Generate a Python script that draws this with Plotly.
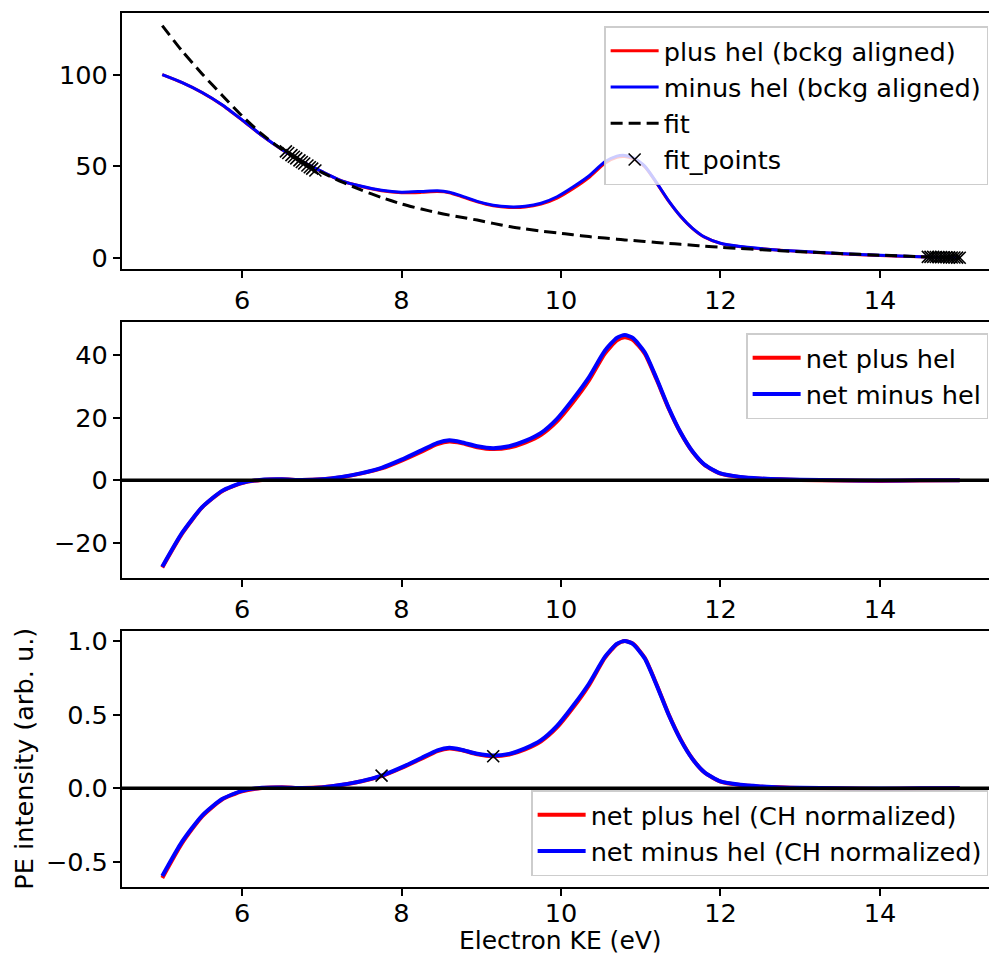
import plotly.graph_objects as go
from plotly.subplots import make_subplots

# ---------------- data ----------------
ke = [5.0, 5.25, 5.5, 5.75, 6.0, 6.25, 6.5, 6.75, 7.0, 7.25, 7.5, 7.75, 8.0, 8.25,
      8.45, 8.6, 8.75, 8.95, 9.15, 9.35, 9.55, 9.75, 9.95, 10.15, 10.35, 10.55,
      10.7, 10.8, 10.9, 11.05, 11.2, 11.35, 11.5, 11.65, 11.8, 12.0, 12.25, 12.5,
      12.75, 13.0, 13.5, 14.0, 14.5, 15.0]

plus_bckg = [100.0, 95.6, 90.2, 83.5, 75.3, 66.8, 59.2, 52.7, 47.2, 42.1, 39.1, 36.8, 35.7, 35.9,
             36.3, 35.7, 33.6, 30.7, 28.6, 27.7, 27.9, 29.5, 32.8, 37.9, 44.0, 51.8,
             55.0, 55.4, 54.3, 49.9, 40.9, 31.1, 22.8, 16.2, 11.5, 8.1, 6.3, 5.2,
             4.4, 3.7, 2.5, 1.5, 0.8, 0.3]
minus_bckg = [100.0, 95.7, 90.3, 83.6, 75.4, 66.9, 59.3, 52.8, 47.3, 42.2, 39.2, 37.0, 36.0, 36.4,
              36.8, 36.0, 34.0, 31.0, 28.9, 28.0, 28.3, 30.0, 33.5, 38.8, 44.8, 52.5,
              55.6, 56.0, 54.9, 50.2, 41.1, 31.3, 22.9, 16.3, 11.6, 8.2, 6.4, 5.3,
              4.4, 3.8, 2.6, 1.6, 0.9, 0.3]
fit_curve = [126.7, 112.8, 100.4, 88.8, 77.6, 67.6, 59.3, 52.6, 46.8, 41.6, 37.1, 33.1, 29.6, 26.8,
             24.8, 23.5, 22.3, 20.8, 19.0, 17.3, 16.0, 14.8, 13.8, 12.8, 11.8, 11.0,
             10.4, 10.0, 9.7, 9.2, 8.6, 8.1, 7.6, 7.1, 6.6, 6.0, 5.3, 4.7,
             4.1, 3.6, 2.6, 1.7, 0.9, 0.3]

fit_pts_x = [6.55, 6.58, 6.62, 6.65, 6.68, 6.72, 6.75, 6.78, 6.82, 6.85, 6.88, 6.92,
             14.6, 14.633, 14.667, 14.7, 14.733, 14.767, 14.8, 14.833, 14.867, 14.9,
             14.933, 14.967, 15.0]
fit_pts_y = [58.2, 57.3, 56.2, 55.3, 54.4, 53.3, 52.4, 51.6, 50.5, 49.6, 48.8, 47.8,
             0.8, 0.77, 0.74, 0.7, 0.66, 0.62, 0.58, 0.54, 0.5, 0.45, 0.4, 0.35, 0.3]

net_plus = [-27.9, -17.0, -8.7, -3.5, -0.9, 0.1, 0.3, 0.1, 0.3, 1.0, 2.2, 3.8, 6.3, 9.2,
            11.6, 12.4, 11.9, 10.6, 10.0, 10.5, 12.1, 14.6, 18.9, 25.0, 32.0, 40.6,
            44.8, 45.8, 45.0, 40.6, 32.2, 23.0, 15.2, 9.1, 4.9, 2.1, 1.0, 0.5,
            0.3, 0.1, -0.1, -0.2, -0.1, 0.0]
net_minus = [-27.7, -16.8, -8.6, -3.4, -0.8, 0.2, 0.3, 0.1, 0.3, 1.1, 2.3, 4.0, 6.6, 9.6,
             12.0, 12.8, 12.2, 10.9, 10.3, 10.9, 12.6, 15.2, 19.7, 26.0, 33.0, 41.5,
             45.6, 46.5, 45.6, 41.0, 32.5, 23.2, 15.3, 9.2, 5.0, 2.2, 1.1, 0.6,
             0.3, 0.2, 0.0, -0.1, 0.0, 0.0]

norm_plus = [-0.609, -0.371, -0.190, -0.076, -0.020, 0.002, 0.007, 0.002, 0.007, 0.022, 0.048,
             0.083, 0.138, 0.201, 0.253, 0.271, 0.260, 0.231, 0.218, 0.229, 0.264, 0.319,
             0.413, 0.546, 0.699, 0.886, 0.978, 1.000, 0.983, 0.886, 0.703, 0.502, 0.332,
             0.199, 0.107, 0.046, 0.022, 0.011, 0.007, 0.002, -0.002, -0.004, -0.002, 0.0]
norm_minus = [-0.596, -0.361, -0.185, -0.073, -0.017, 0.004, 0.006, 0.002, 0.006, 0.024, 0.049,
              0.086, 0.142, 0.206, 0.258, 0.275, 0.262, 0.234, 0.222, 0.234, 0.271, 0.327,
              0.424, 0.559, 0.710, 0.892, 0.981, 1.000, 0.981, 0.882, 0.699, 0.499, 0.329,
              0.198, 0.108, 0.047, 0.024, 0.013, 0.006, 0.004, 0.0, -0.002, 0.0, 0.0]

norm_pts_x = [7.75, 9.15]
norm_pts_y = [0.086, 0.218]

x_ticks = [6, 8, 10, 12, 14]

# ---------------- figure ----------------
W, H = 989, 955
FONT = "DejaVu Sans"
FS = 25.6

fig = make_subplots(rows=3, cols=1)

def line(x, y, color, width, name, row, legend, dash=None):
    fig.add_trace(go.Scatter(x=x, y=y, mode="lines", name=name, legend=legend,
                             line=dict(color=color, width=width, shape="spline",
                                       smoothing=0.6, dash=dash)),
                  row=row, col=1)

xmark = dict(symbol="x-thin", size=12, color="black", line=dict(color="black", width=1.6))

line(ke, plus_bckg, "red", 3, "plus hel (bckg aligned)", 1, "legend")
line(ke, minus_bckg, "blue", 3, "minus hel (bckg aligned)", 1, "legend")
line(ke, fit_curve, "black", 3, "fit", 1, "legend", dash="12px,6px")
fig.add_trace(go.Scatter(x=fit_pts_x, y=fit_pts_y, mode="markers", name="fit_points",
                         legend="legend", marker=xmark),
              row=1, col=1)

line(ke, net_plus, "red", 4, "net plus hel", 2, "legend2")
line(ke, net_minus, "blue", 4, "net minus hel", 2, "legend2")

line(ke, norm_plus, "red", 4, "net plus hel (CH normalized)", 3, "legend3")
line(ke, norm_minus, "blue", 4, "net minus hel (CH normalized)", 3, "legend3")
fig.add_trace(go.Scatter(x=norm_pts_x, y=norm_pts_y, mode="markers", showlegend=False,
                         marker=xmark),
              row=3, col=1)

domains = [[0.71801, 0.98607], [0.39476, 0.66314], [0.07152, 0.33958]]
yranges = [[-6.0, 133.4], [-31.3, 50.8], [-0.668, 1.07]]
yticks = [[0, 50, 100], [-20, 0, 20, 40], [-0.5, 0.0, 0.5, 1.0]]

axis_common = dict(showgrid=False, zeroline=False, showline=True, linecolor="black",
                   linewidth=2, ticks="outside", ticklen=7, tickwidth=2, tickcolor="black",
                   tickfont=dict(family=FONT, size=FS, color="black"))

for i in range(3):
    sfx = "" if i == 0 else str(i + 1)
    fig.layout["xaxis" + sfx].update(domain=[0, 1], range=[4.495, 15.367], tickvals=x_ticks,
                                     mirror=True, **axis_common)
    fig.layout["yaxis" + sfx].update(domain=domains[i], range=yranges[i], tickvals=yticks[i],
                                     mirror=False, **axis_common)
fig.layout.xaxis3.ticklabelstandoff = -4
fig.layout.yaxis3.tickformat = ".1f"
fig.layout.yaxis3.title = dict(text="PE intensity (arb. u.)", font=dict(family=FONT, size=FS, color="black"),
                               standoff=5)

# x axis title, centred under the full (matplotlib) axes width
fig.add_annotation(text="Electron KE (eV)", xref="paper", yref="paper",
                   x=(560.5 - 122) / (W - 122), y=1 - 940 / H, xanchor="center", yanchor="middle",
                   showarrow=False, borderpad=0, font=dict(family=FONT, size=25, color="black"))

for xr in ["x2", "x3"]:
    yr = "y" + xr[1:]
    fig.add_shape(type="line", xref=xr + " domain", yref=yr, x0=0, x1=1, y0=0, y1=0,
                  line=dict(color="black", width=3.5), layer="above")

leg_common = dict(bgcolor="rgba(255,255,255,0.8)", bordercolor="rgba(200,200,200,0.9)",
                  borderwidth=1.5, font=dict(family=FONT, size=FS, color="black"),
                  xanchor="right", x=0.999, itemwidth=48)
fig.update_layout(
    width=W, height=H,
    margin=dict(l=122, r=0, t=0, b=0, autoexpand=False),
    paper_bgcolor="white", plot_bgcolor="white",
    font=dict(family=FONT, size=FS, color="black"),
    legend=dict(y=1 - 26 / H, yanchor="top", **leg_common),
    legend2=dict(y=1 - 333 / H, yanchor="top", **leg_common),
    legend3=dict(y=1 - 876 / H, yanchor="bottom", **leg_common),
)

fig.write_html("out.html")
